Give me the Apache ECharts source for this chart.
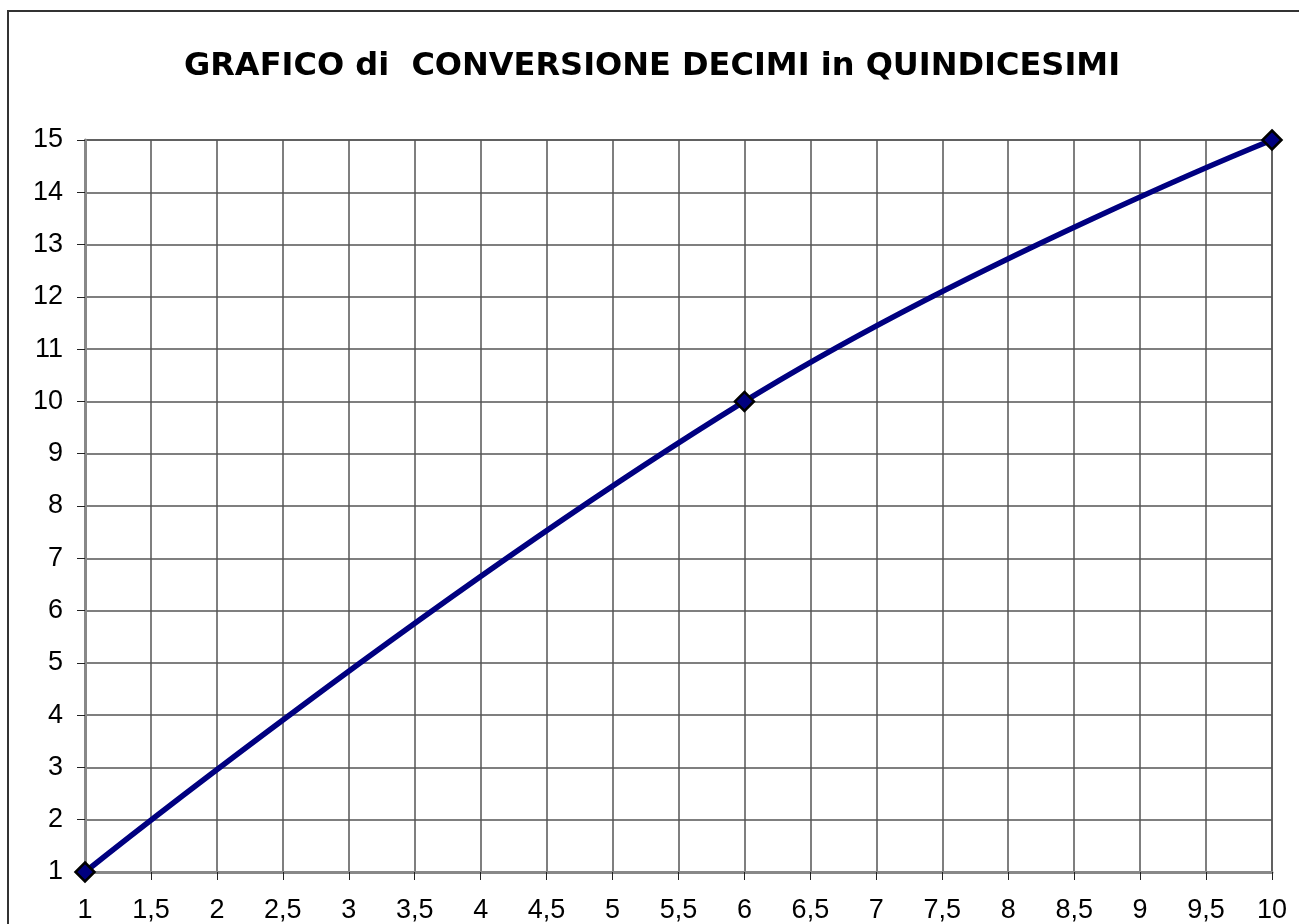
<!DOCTYPE html>
<html>
<head>
<meta charset="utf-8">
<script src="https://cdn.jsdelivr.net/npm/echarts@6/dist/echarts.min.js"></script>
<style>
  html, body { margin: 0; padding: 0; background: #fff; }
  #main { width: 1299px; height: 924px; }
</style>
</head>
<body>
<div id="main"></div>
<script>
// decimi -> quindicesimi
var decimi = [1, 6, 10];
var quindicesimi = [1, 10, 15];
var titleText = 'GRAFICO di  CONVERSIONE DECIMI in QUINDICESIMI';

var points = decimi.map(function (d, i) {
    return [d, quindicesimi[i]];
});

function comma(v) {
    return String(v).replace('.', ',');
}

var option = {
    backgroundColor: '#fff',
    animation: false,
    title: {
        text: titleText,
        left: 647,
        textAlign: 'center',
        top: 46,
        textStyle: {
            fontFamily: 'DejaVu Sans',
            fontWeight: 'bold',
            fontSize: 32,
            color: '#000'
        }
    },
    graphic: [{
        type: 'rect',
        shape: { x: 8, y: 11, width: 1400, height: 1000 },
        style: { fill: null, stroke: '#333', lineWidth: 2 },
        silent: true
    }],
    grid: {
        left: 85,
        right: 27,
        top: 140,
        bottom: 52,
        show: true,
        borderColor: '#888',
        borderWidth: 2
    },
    xAxis: {
        type: 'value',
        min: 1,
        max: 10,
        interval: 0.5,
        axisLine: { lineStyle: { color: '#888', width: 3 } },
        axisTick: { show: true, length: 8, lineStyle: { color: '#222' } },
        axisLabel: {
            formatter: comma,
            margin: 25,
            fontFamily: 'Liberation Sans',
            fontSize: 27,
            color: '#000'
        },
        splitLine: { show: true, lineStyle: { color: '#555', width: 1.5 } }
    },
    yAxis: {
        type: 'value',
        min: 1,
        max: 15,
        interval: 1,
        axisLine: { show: true, lineStyle: { color: '#888', width: 3 } },
        axisTick: { show: true, length: 8, lineStyle: { color: '#222' } },
        axisLabel: {
            margin: 22,
            fontFamily: 'Liberation Sans',
            fontSize: 27,
            color: '#000'
        },
        splitLine: { show: true, lineStyle: { color: '#555', width: 1.5 } }
    },
    series: [{
        type: 'line',
        data: points,
        smooth: 0.45,
        symbol: 'diamond',
        symbolSize: 19,
        lineStyle: { color: '#000080', width: 5.5 },
        itemStyle: { color: '#000080', borderColor: '#000', borderWidth: 2.5 }
    }]
};

var myChart = echarts.init(document.getElementById('main'));
myChart.setOption(option);
</script>
</body>
</html>
